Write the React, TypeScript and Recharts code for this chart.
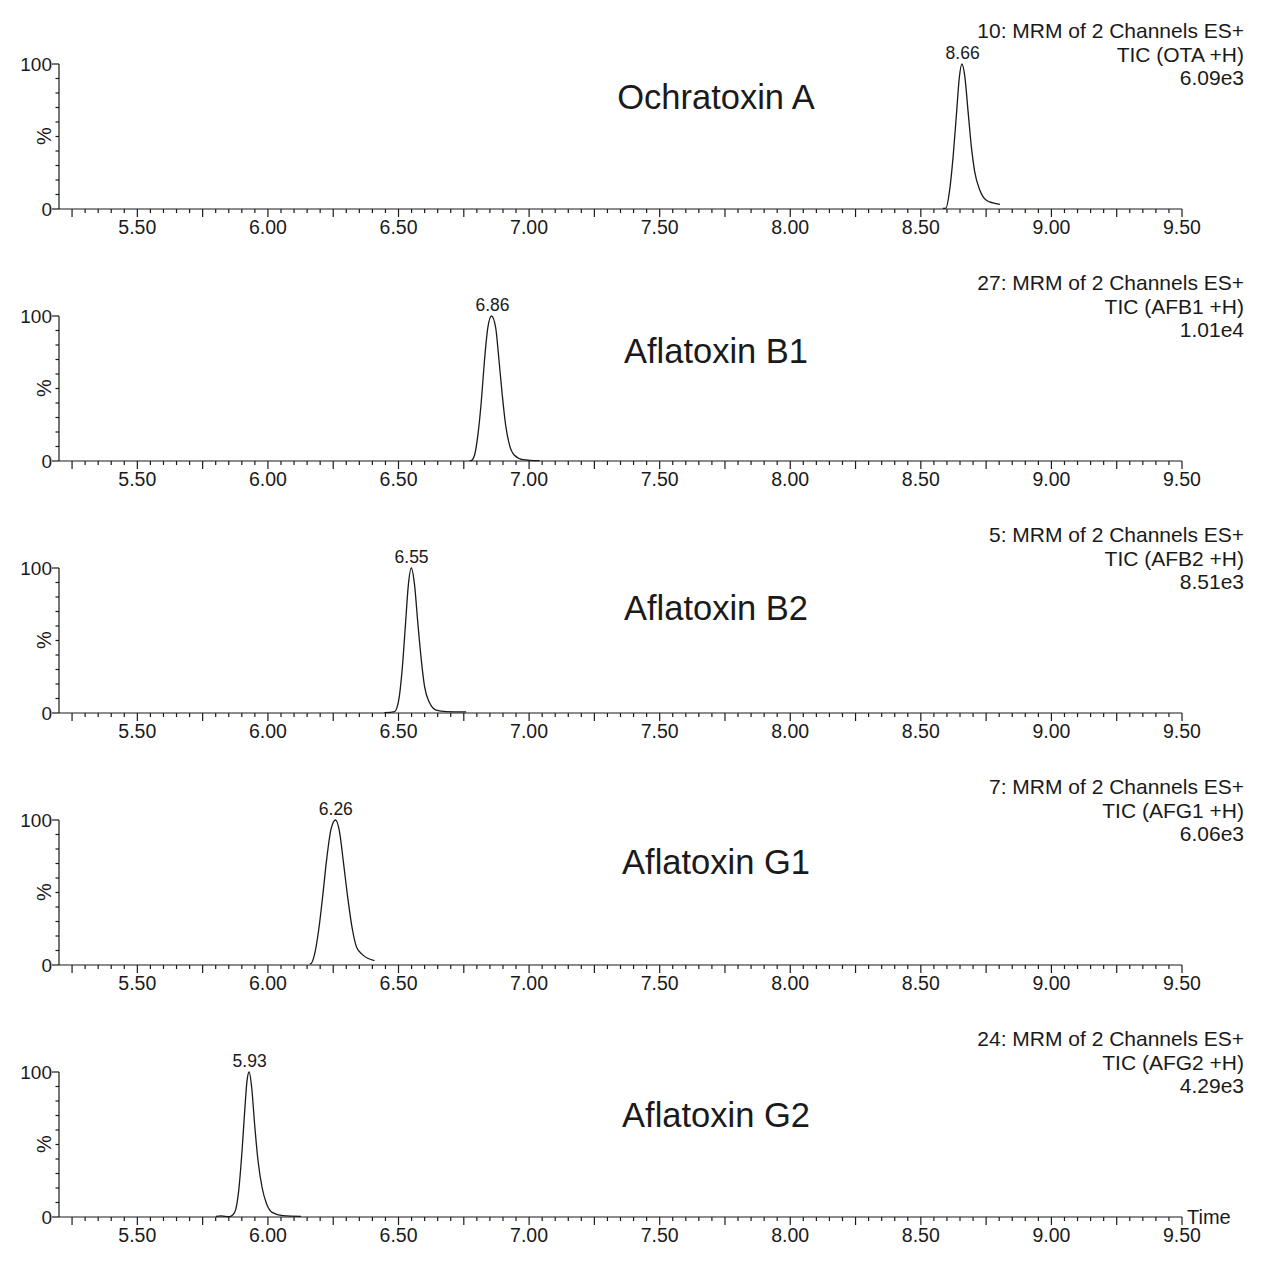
import React from 'react';
import { LineChart, Line, XAxis, YAxis, ReferenceDot } from 'recharts';

// retention time (min) vs relative intensity (%)
const otaTrace = [
  { t: 8.584, v: 0.4 }, { t: 8.596, v: 0.6 }, { t: 8.611, v: 14 }, { t: 8.624, v: 37 },
  { t: 8.637, v: 67 }, { t: 8.647, v: 90 }, { t: 8.657, v: 100 }, { t: 8.668, v: 92 },
  { t: 8.681, v: 67 }, { t: 8.694, v: 42 }, { t: 8.706, v: 26 }, { t: 8.726, v: 13 },
  { t: 8.751, v: 6 }, { t: 8.776, v: 4.2 }, { t: 8.803, v: 3.2 },
];
const afb1Trace = [
  { t: 6.772, v: 0.2 }, { t: 6.778, v: 0.3 }, { t: 6.791, v: 4 }, { t: 6.804, v: 18 },
  { t: 6.817, v: 41 }, { t: 6.829, v: 69 }, { t: 6.842, v: 92 }, { t: 6.856, v: 100 },
  { t: 6.872, v: 92 }, { t: 6.884, v: 71 }, { t: 6.897, v: 46 }, { t: 6.910, v: 25 },
  { t: 6.925, v: 11 }, { t: 6.944, v: 4 }, { t: 6.976, v: 1 }, { t: 7.04, v: 0.2 },
];
const afb2Trace = [
  { t: 6.446, v: 0.2 }, { t: 6.485, v: 1 }, { t: 6.501, v: 9 }, { t: 6.514, v: 30 },
  { t: 6.527, v: 62 }, { t: 6.537, v: 87 }, { t: 6.549, v: 100 }, { t: 6.561, v: 89 },
  { t: 6.574, v: 62 }, { t: 6.587, v: 37 }, { t: 6.600, v: 18 }, { t: 6.619, v: 7 },
  { t: 6.644, v: 2 }, { t: 6.683, v: 1 }, { t: 6.759, v: 0.8 },
];
const afg1Trace = [
  { t: 6.160, v: 0.8 }, { t: 6.165, v: 1 }, { t: 6.178, v: 7 }, { t: 6.195, v: 25 },
  { t: 6.210, v: 48 }, { t: 6.225, v: 73 }, { t: 6.242, v: 94 }, { t: 6.259, v: 100 },
  { t: 6.274, v: 92 }, { t: 6.289, v: 71 }, { t: 6.306, v: 46 }, { t: 6.323, v: 25 },
  { t: 6.340, v: 12 }, { t: 6.363, v: 7 }, { t: 6.408, v: 3 },
];
const afg2Trace = [
  { t: 5.801, v: 0.4 }, { t: 5.820, v: 0.8 }, { t: 5.852, v: 0.2 }, { t: 5.872, v: 3 },
  { t: 5.888, v: 18 }, { t: 5.901, v: 46 }, { t: 5.911, v: 73 }, { t: 5.920, v: 94 },
  { t: 5.928, v: 100 }, { t: 5.938, v: 89 }, { t: 5.949, v: 64 }, { t: 5.962, v: 39 },
  { t: 5.978, v: 20 }, { t: 5.995, v: 9 }, { t: 6.018, v: 3 }, { t: 6.057, v: 1 },
  { t: 6.127, v: 0.5 },
];

const compounds = ['Ochratoxin A', 'Aflatoxin B1', 'Aflatoxin B2', 'Aflatoxin G1', 'Aflatoxin G2'];
const peakTimes = [8.66, 6.86, 6.55, 6.26, 5.93];
const channelLines = ['10: MRM of 2 Channels ES+', '27: MRM of 2 Channels ES+', '5: MRM of 2 Channels ES+', '7: MRM of 2 Channels ES+', '24: MRM of 2 Channels ES+'];
const ticLines = ['TIC (OTA +H)', 'TIC (AFB1 +H)', 'TIC (AFB2 +H)', 'TIC (AFG1 +H)', 'TIC (AFG2 +H)'];
const intensities = ['6.09e3', '1.01e4', '8.51e3', '6.06e3', '4.29e3'];
const traces = [otaTrace, afb1Trace, afb2Trace, afg1Trace, afg2Trace];

const xTicks: number[] = [];
for (let i = 105; i <= 190; i++) xTicks.push(Math.round(i * 5) / 100);
const yTicks = [0, 10, 20, 30, 40, 50, 60, 70, 80, 90, 100];

const FONT = "Arial, 'Liberation Sans', sans-serif";
const INK = '#1a1a1a';
const PANEL_H = 252;
const nameTop = [97, 99, 104, 106, 107];

const TimeTick = (props: any) => {
  const { x, y, payload } = props;
  const val = payload.value as number;
  const k = Math.round(val * 100);
  const major = k % 25 === 0;
  const labelled = k % 50 === 0;
  return (
    <g>
      <line x1={x} x2={x} y1={y} y2={y + (major ? 8 : 4)} stroke={INK} strokeWidth={1.2} />
      {labelled && (
        <text x={x} y={y + 25} textAnchor="middle" fontSize={19.5} fontFamily={FONT} fill={INK}>
          {val.toFixed(2)}
        </text>
      )}
    </g>
  );
};

const PctTick = (props: any) => {
  const { x, y, payload } = props;
  const end = payload.value === 0 || payload.value === 100;
  return (
    <g>
      <line x1={x} x2={x - (end ? 7 : 3.5)} y1={y} y2={y} stroke={INK} strokeWidth={1.2} />
      {end && (
        <text x={x - 7} y={y + 6.5} textAnchor="end" fontSize={19} fontFamily={FONT} fill={INK}>
          {payload.value}
        </text>
      )}
    </g>
  );
};

const Panel = ({ idx }: { idx: number }) => (
  <div style={{ position: 'relative', width: 1264, height: PANEL_H }}>
    <LineChart width={1264} height={PANEL_H} data={traces[idx]} margin={{ top: 64, right: 82, left: 0, bottom: 0 }}>
      <XAxis
        type="number"
        dataKey="t"
        domain={[5.2, 9.5]}
        ticks={xTicks}
        interval={0}
        allowDataOverflow
        height={43}
        tickSize={0}
        tickMargin={0}
        tickLine={false}
        tick={<TimeTick />}
        axisLine={{ stroke: INK, strokeWidth: 1.2 }}
      />
      <YAxis
        type="number"
        domain={[0, 100]}
        ticks={yTicks}
        interval={0}
        width={59}
        tickSize={0}
        tickMargin={0}
        tickLine={false}
        tick={<PctTick />}
        axisLine={{ stroke: INK, strokeWidth: 1.2 }}
      />
      <Line
        type="monotone"
        dataKey="v"
        stroke={INK}
        strokeWidth={1.3}
        dot={false}
        isAnimationActive={false}
      />
      <ReferenceDot
        x={peakTimes[idx]}
        y={100}
        r={0}
        fill="none"
        stroke="none"
        label={{ value: peakTimes[idx].toFixed(2), position: 'top', offset: 5, fontSize: 17.5, fontFamily: FONT, fill: INK }}
      />
    </LineChart>
    <div
      style={{
        position: 'absolute', left: 44, top: 136, transform: 'translate(-50%, -50%) rotate(-90deg)',
        fontFamily: FONT, fontSize: 20, color: INK, lineHeight: '22px',
      }}
    >
      %
    </div>
    <div
      style={{
        position: 'absolute', right: 20, top: 19, textAlign: 'right',
        fontFamily: FONT, fontSize: 21, lineHeight: '23.5px', color: INK,
      }}
    >
      <div>{channelLines[idx]}</div>
      <div>{ticLines[idx]}</div>
      <div>{intensities[idx]}</div>
    </div>
    <div
      style={{
        position: 'absolute', left: 716, top: nameTop[idx], transform: 'translate(-50%, -50%)',
        fontFamily: FONT, fontSize: 34.5, color: INK, whiteSpace: 'nowrap', lineHeight: '40px',
      }}
    >
      {compounds[idx]}
    </div>
    {idx === compounds.length - 1 && (
      <div style={{ position: 'absolute', left: 1187, top: 198, fontFamily: FONT, fontSize: 20, lineHeight: '22px', color: INK }}>
        Time
      </div>
    )}
  </div>
);

export default function App() {
  return (
    <div style={{ position: 'absolute', left: 0, top: 0, width: 1264, height: 1280, background: '#fff' }}>
      {compounds.map((_, i) => (
        <Panel key={i} idx={i} />
      ))}
    </div>
  );
}
